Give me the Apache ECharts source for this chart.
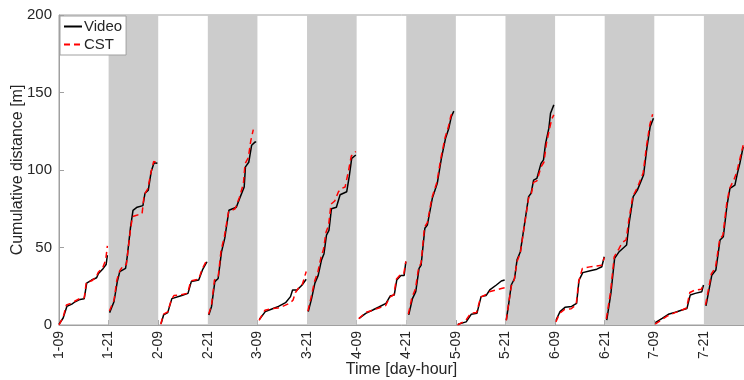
<!DOCTYPE html>
<html>
<head>
<meta charset="utf-8">
<script src="https://cdn.jsdelivr.net/npm/echarts@6/dist/echarts.min.js"></script>
<style>
  html, body { margin: 0; padding: 0; background: #fff; }
  #chart { width: 744px; height: 380px; }
</style>
</head>
<body>
<div id="chart"></div>
<script>
// 每段 12 小时，段内累计距离从 0 重新开始
const segStarts = [0, 12, 24, 36, 48, 60, 72, 84, 96, 108, 120, 132, 144, 156];
const tickLabels = ['1-09', '1-21', '2-09', '2-21', '3-09', '3-21', '4-09',
  '4-21', '5-09', '5-21', '6-09', '6-21', '7-09', '7-21'];
// 夜间（灰色背景）区间，单位：小时
const nightBands = [[12, 24], [36, 48], [60, 72], [84, 96], [108, 120], [132, 144], [156, 165.7]];

// Video：每段内 [段内小时, 累计距离 m]
const videoSegs = [
  [[0, 0.5], [1.0, 4.5], [1.9, 12], [3.1, 13.5], [3.9, 15], [5.1, 16.5], [6.1, 17], [6.7, 27], [7.9, 29], [9.1, 30.5], [9.5, 33], [10.7, 36.5], [11.4, 39], [11.7, 45]],
  [[0.24, 8], [1.3, 15], [2.1, 28], [2.7, 34.4], [4.1, 36.5], [4.5, 44], [5.3, 63], [5.9, 74], [6.9, 76], [8.3, 77], [8.8, 85], [9.6, 87], [10.3, 99], [11.0, 104.7], [11.8, 104.3]],
  [[0.7, 1], [1.3, 6.5], [2.3, 8], [3.3, 17], [5.7, 19], [7.2, 20.4], [8.0, 28], [9.8, 29], [10.7, 35.5], [11.8, 40.8]],
  [[0.24, 6.5], [0.9, 12], [1.7, 28], [2.5, 30], [3.3, 47], [4.1, 56], [5.1, 74], [6.9, 76], [7.7, 81.7], [8.8, 89], [9.1, 102], [9.9, 105], [10.6, 116], [11.4, 118], [11.7, 118]],
  [[0.5, 3.7], [1.9, 8.6], [3.5, 10.3], [5.1, 12], [6.8, 14.4], [8.0, 18.3], [8.5, 22.6], [9.6, 22.6], [10.8, 25.8], [11.8, 29.5]],
  [[0.3, 8.6], [1.1, 17], [1.9, 27], [2.7, 32], [3.5, 42], [4.1, 46], [4.7, 58], [5.3, 61], [5.9, 75], [7.1, 76], [8.0, 84], [9.6, 86], [10.2, 95.7], [10.8, 107.5], [11.8, 109.7]],
  [[0.6, 4.3], [2.2, 7.5], [3.9, 9.7], [5.5, 11.8], [7.1, 14], [8.1, 18.7], [9.1, 19.4], [9.7, 29], [10.7, 32], [11.5, 32], [11.9, 40.9]],
  [[0.6, 6.5], [1.5, 17], [2.3, 21.5], [3.1, 36.5], [3.6, 38.7], [4.5, 62.4], [5.1, 64.5], [6.3, 81.7], [7.5, 91.4], [8.5, 107.5], [9.5, 120.4], [10.3, 127], [10.9, 134.4], [11.5, 138]],
  [[0.5, 0.5], [2.5, 2], [3.7, 6.9], [5.1, 7.5], [6.1, 18.3], [7.3, 19], [8.2, 22.6], [9.8, 25.8], [11.0, 28.4], [11.8, 29]],
  [[0.2, 3.2], [0.8, 14], [1.4, 25.8], [2.2, 30], [2.8, 42], [3.6, 47.3], [4.4, 61.3], [5.6, 82.8], [6.2, 85], [6.8, 93.5], [7.6, 94.6], [8.6, 104.3], [9.2, 106.5], [9.7, 117], [10.5, 127], [10.9, 136.6], [11.7, 142]],
  [[0.24, 3.2], [1.2, 8.6], [2.4, 11.4], [4.0, 12], [5.2, 14], [5.8, 29], [6.7, 33.8], [8.5, 35], [10.1, 36], [11.3, 37.6], [11.9, 44]],
  [[0.5, 3.2], [1.5, 20.4], [2.4, 43], [3.5, 47.3], [5.3, 51.6], [5.9, 65.6], [6.9, 82.8], [7.9, 87], [9.4, 96.8], [10.2, 114], [11.0, 128], [11.8, 133.4]],
  [[0.24, 1.5], [1.9, 4.3], [3.4, 6.9], [5.1, 8.2], [6.7, 9.7], [7.9, 10.7], [8.7, 19.4], [9.9, 20.4], [11.5, 21.5], [11.9, 25.8]],
  [[0.5, 12.3], [1.0, 19.4], [1.9, 32], [2.9, 35.5], [3.9, 54.8], [4.7, 57], [5.6, 77.4], [6.3, 88.2], [7.5, 90.3], [8.1, 97.8], [8.7, 104.3], [9.5, 115]]
];

// CST
const cstSegs = [
  [[0, 0], [1.0, 5], [1.8, 13], [3.0, 14], [3.9, 15.5], [5.0, 17], [6.1, 17.5], [6.6, 27.5], [7.9, 28.5], [9.0, 31], [9.5, 34], [10.6, 37], [11.3, 42], [11.7, 51]],
  [[0.2, 9], [1.3, 16], [2.0, 29], [2.7, 35], [3.6, 38.5], [4.3, 39], [4.6, 46], [5.3, 62], [5.8, 70], [7.0, 71], [8.1, 72], [8.6, 84], [9.5, 88], [10.2, 98], [10.9, 105.5], [11.4, 105]],
  [[0.6, 0.5], [1.3, 7], [2.3, 8.5], [3.2, 16.5], [3.8, 19], [5.5, 19.5], [7.1, 20.5], [7.9, 28.5], [9.8, 29.5], [10.6, 36], [11.6, 41]],
  [[0.2, 7], [0.9, 13], [1.6, 29], [2.5, 31], [3.2, 48], [4.0, 57], [5.0, 73], [6.6, 75], [7.6, 82], [8.6, 91], [9.0, 104], [9.8, 108], [10.4, 119], [11.0, 126]],
  [[0.4, 3], [1.8, 9.5], [3.4, 10.5], [5.0, 11], [6.5, 12.5], [7.8, 14], [8.6, 16], [9.2, 21], [10.0, 24], [10.9, 26.5], [11.8, 34.5]],
  [[0.2, 9], [1.0, 18], [1.8, 28], [2.6, 34], [3.4, 44], [4.0, 49], [4.6, 60], [5.2, 64], [5.8, 78], [6.7, 80], [7.6, 86], [8.3, 88], [9.2, 89], [10.0, 99], [10.7, 109], [11.8, 112]],
  [[0.5, 4], [2.1, 8], [3.8, 9.5], [5.4, 11], [7.0, 12.5], [8.0, 18], [9.0, 19.5], [9.6, 29.5], [10.6, 32.5], [11.4, 33], [11.9, 41]],
  [[0.5, 7], [1.4, 18], [2.2, 23], [3.0, 37], [3.6, 40], [4.4, 63], [5.1, 66], [6.2, 82], [7.4, 92], [8.4, 108], [9.4, 121], [10.2, 128], [10.8, 135], [11.4, 138.5]],
  [[0.4, 0], [2.4, 3], [3.6, 7.5], [5.0, 8], [6.0, 18], [7.2, 19.5], [8.1, 21.5], [9.6, 22.5], [11.0, 23.5], [11.8, 24]],
  [[0.2, 3], [0.8, 14.5], [1.4, 25], [2.1, 29], [2.8, 41], [3.6, 46.5], [4.4, 61], [5.6, 82], [6.2, 84], [6.8, 92], [7.6, 93], [8.6, 102], [9.3, 105], [9.9, 117], [10.6, 126], [11.2, 133], [11.7, 135.5]],
  [[0.2, 2], [1.1, 7.5], [2.3, 10], [3.9, 10.5], [5.1, 13], [5.7, 28], [6.6, 36.5], [8.4, 37.5], [10.0, 38], [11.3, 38.5], [11.9, 43.5]],
  [[0.4, 4], [1.4, 21], [2.3, 44], [3.4, 49], [4.2, 53], [5.2, 55], [5.8, 67], [6.8, 83], [7.8, 88], [9.3, 98], [10.1, 115], [10.9, 129], [11.6, 136]],
  [[0.2, 0.5], [1.8, 3.5], [3.3, 6], [5.0, 8], [6.6, 9.5], [7.8, 11], [8.6, 21], [9.8, 22.5], [11.4, 23], [11.9, 26.5]],
  [[0.4, 13], [0.9, 20], [1.8, 33], [2.8, 37], [3.8, 55], [4.6, 58], [5.5, 78], [6.2, 88], [7.3, 94], [8.0, 99], [8.6, 106], [9.5, 116]]
];

// 把各段拼成一条折线，段与段之间断开
function flatten(segs) {
  const out = [];
  segs.forEach(function (seg, i) {
    seg.forEach(function (p) {
      out.push([segStarts[i] + p[0], p[1]]);
    });
    out.push([segStarts[i] + 12, '-']);
  });
  return out;
}

const font = 'Liberation Sans, Arial, Helvetica, sans-serif';
const axisGray = '#a0a0a0';
const textDark = '#262626';

const chart = echarts.init(document.getElementById('chart'));
chart.setOption({
  animation: false,
  textStyle: { fontFamily: font },
  grid: {
    left: 59, right: 0, top: 15, bottom: 55,
    outerBoundsMode: 'none',
    containLabel: false,
    show: true, borderColor: axisGray, borderWidth: 1, backgroundColor: 'transparent'
  },
  legend: {
    left: 60, top: 16,
    orient: 'vertical',
    padding: [3, 4, 3, 3],
    itemGap: 3,
    itemWidth: 18,
    itemHeight: 14,
    backgroundColor: '#fff',
    borderColor: axisGray,
    borderWidth: 1,
    itemStyle: { opacity: 0 },
    textStyle: { fontSize: 15, color: textDark, fontFamily: font, padding: [0, 0, 0, -3] },
    data: ['Video', 'CST']
  },
  xAxis: {
    type: 'value',
    min: 0,
    max: 165.7,
    interval: 12,
    name: 'Time [day-hour]',
    nameLocation: 'middle',
    nameGap: 37,
    nameMoveOverlap: false,
    nameTextStyle: { fontSize: 16, color: textDark },
    axisLine: { lineStyle: { color: axisGray } },
    axisTick: { inside: true, length: 5, lineStyle: { color: axisGray } },
    splitLine: { show: false },
    axisLabel: {
      rotate: 90,
      fontSize: 14,
      color: textDark,
      margin: 6,
      showMaxLabel: false,
      formatter: function (v) {
        const i = Math.round(v / 12);
        return Math.abs(v - i * 12) < 1e-6 && tickLabels[i] ? tickLabels[i] : '';
      }
    }
  },
  yAxis: {
    type: 'value',
    min: 0,
    max: 200,
    interval: 50,
    name: 'Cumulative distance [m]',
    nameLocation: 'middle',
    nameGap: 33,
    nameMoveOverlap: false,
    nameTextStyle: { fontSize: 16, color: textDark },
    axisLine: { show: true, lineStyle: { color: axisGray } },
    axisTick: { show: true, inside: true, length: 5, lineStyle: { color: axisGray } },
    splitLine: { show: false },
    axisLabel: { fontSize: 15, color: textDark, margin: 7 }
  },
  series: [
    {
      name: 'bands',
      type: 'line',
      data: [],
      silent: true,
      z: 1,
      markArea: {
        silent: true,
        itemStyle: { color: '#cccccc', opacity: 1 },
        data: nightBands.map(function (b) {
          return [{ xAxis: b[0] }, { xAxis: b[1] }];
        })
      }
    },
    {
      name: 'Video',
      type: 'line',
      z: 3,
      symbol: 'none',
      connectNulls: false,
      lineStyle: { color: '#000', width: 1.5 },
      itemStyle: { color: '#000' },
      data: flatten(videoSegs)
    },
    {
      name: 'CST',
      type: 'line',
      z: 4,
      symbol: 'none',
      connectNulls: false,
      lineStyle: { color: '#ff0000', width: 1.5, type: [6, 4] },
      itemStyle: { color: '#ff0000' },
      data: flatten(cstSegs)
    }
  ]
});
</script>
</body>
</html>
